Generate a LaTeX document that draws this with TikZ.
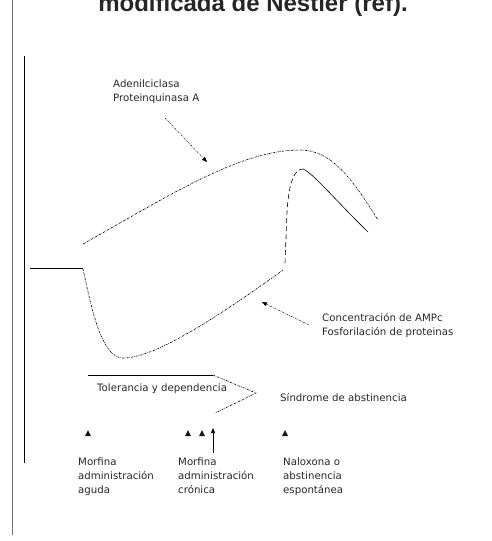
\documentclass[tikz,border=0pt]{standalone}
\usepackage{fontspec}
\setmainfont{DejaVu Sans}
\newfontfamily\titlefont{Liberation Sans}
\usetikzlibrary{positioning, calc, arrows.meta}

\begin{document}
\begin{tikzpicture}
    [x=1pt, y=-1pt,
    label/.style={align=left, inner sep=0pt, text=black!85, font=\fontsize{10.2}{14}\selectfont},
    triup/.style={fill=black!90},
    dotcurve/.style={dash pattern=on 2pt off 1pt on 0.6pt off 1pt, semithick},
    jumpline/.style={dash pattern=on 5pt off 3pt, semithick},
    pointer/.style={dash pattern=on 2pt off 1pt on 0.6pt off 1pt, thin, -{Triangle[length=5pt, width=4pt]}},]

    \useasboundingbox (0,0) rectangle (491,541);
    \clip (0,0) rectangle (491,541);

    %Nodes
    \node[anchor=base, inner sep=0pt, font=\titlefont\bfseries\fontsize{24}{28}\selectfont, text=black!85](title) at (253,11){modificada de Nestier (ref).};

    \node[label, anchor=north west](adenil) at (113,80){Adenilciclasa\\Proteinquinasa A};
    \node[label, anchor=north west](ampc) at (322,313){Concentración de AMPc\\Fosforilación de proteinas};

    \node[label, anchor=west](toler) at (97,389){Tolerancia y dependencia};
    \node[label, anchor=west](abst) at (280,397){Síndrome de abstinencia};

    \node[label, anchor=north west](aguda) at (78,458){Morfina\\administración\\aguda};
    \node[label, anchor=north west](cronica) at (178,458){Morfina\\administración\\crónica};
    \node[label, anchor=north west](nalox) at (283,458){Naloxona o\\abstinencia\\espontánea};

    \fill[triup] (85,436) -- (88,430) -- (91,436) -- cycle;
    \fill[triup] (185,436) -- (188,430) -- (191,436) -- cycle;
    \fill[triup] (199,436) -- (202,430) -- (205,436) -- cycle;
    \fill[triup] (282,436) -- (285,430) -- (288,436) -- cycle;

    \coordinate (adenilA) at (165,118);
    \coordinate (adenilB) at (207,162);
    \coordinate (ampcA) at (309,325);
    \coordinate (ampcB) at (262,302);
    \coordinate (dosisA) at (213,453);
    \coordinate (dosisB) at (213,428);

    %Lines
    \draw[black!55, thick](12,0)--(12,535);
    \draw[thick](24,56)--(24,463);

    \draw[semithick](30,268)--(83,268);
    \draw[dotcurve](83,244) .. controls (170,195) and (240,150) .. (300,150)
        .. controls (330,150) and (350,175) .. (378,220);
    \draw[dotcurve](83,269) .. controls (90,300) and (100,358) .. (123,358)
        .. controls (150,358) and (200,330) .. (283,270);
    \draw[jumpline](285,263)--(287,212) .. controls (289,180) and (295,169) .. (303,169);
    \draw[semithick](303,169) .. controls (312,172) and (340,205) .. (368,232);

    \draw[pointer](adenilA)--(adenilB);
    \draw[pointer](ampcA)--(ampcB);
    \draw[semithick, -{Triangle[length=5pt, width=4pt]}](dosisA)--(dosisB);

    \draw[semithick](88,375)--(213,375);
    \draw[dotcurve](213,375)--(256,393)--(215,413);
\end{tikzpicture}
\end{document}
